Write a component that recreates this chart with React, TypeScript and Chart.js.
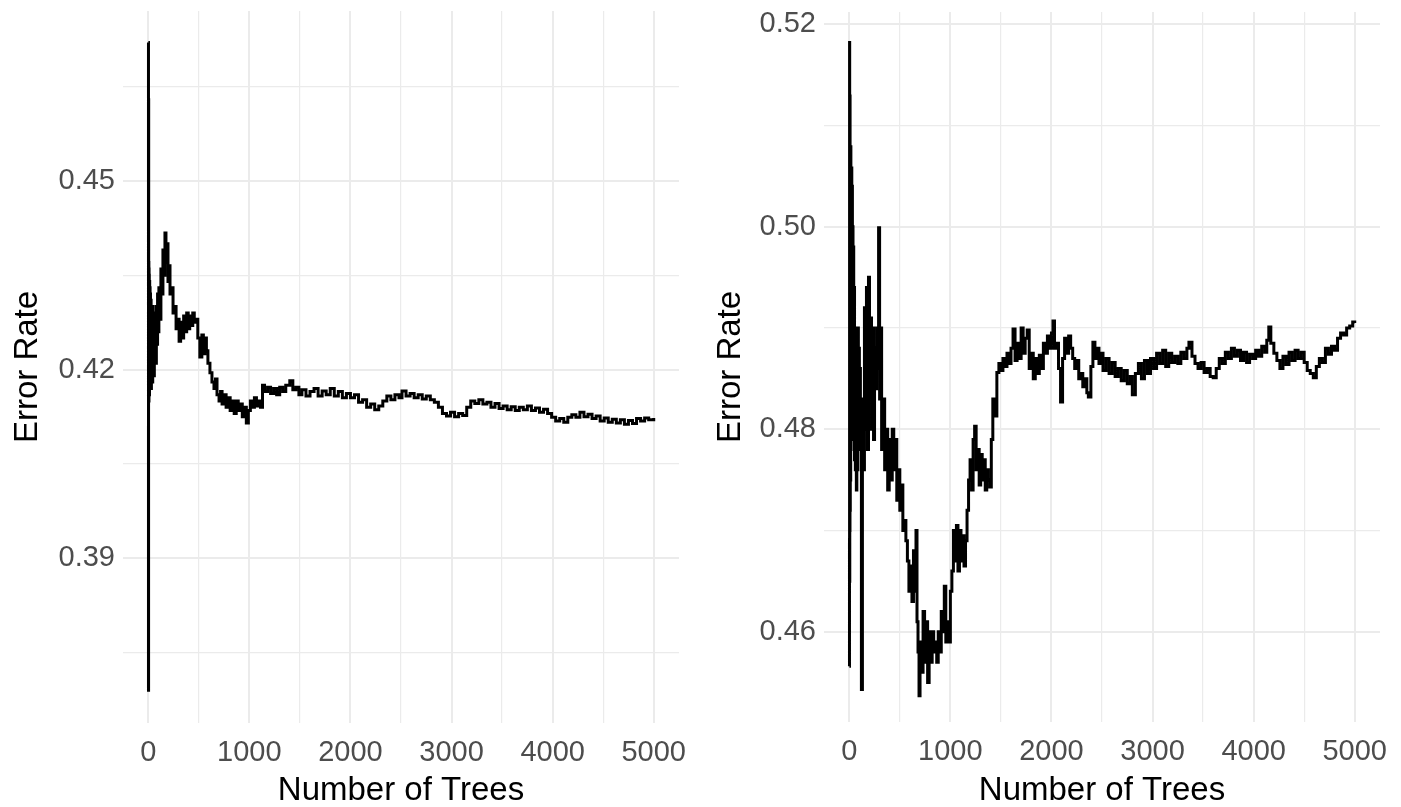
import React, { useEffect, useRef } from "react";
import { Chart, registerables } from "chart.js";

Chart.register(...registerables);

// ---------- DATA ----------
const TREES_LEFT = [
  1, 2, 3, 4, 5, 6, 7, 8, 9, 10,
  12, 14, 16, 18, 20, 22, 25, 28, 31, 34,
  37, 40, 44, 48, 52, 56, 60, 65, 70, 75,
  80, 86, 92, 98,
  105, 115, 125, 135, 145, 155, 165, 175,
  185, 195, 205, 215, 230, 245, 260, 275, 290, 305,
  320, 335, 350, 365, 380, 395, 410, 425, 440, 455,
  470, 490, 510, 530, 545, 560, 575, 590, 610, 630,
  650, 665, 680, 700, 715, 730, 750, 770, 790, 810,
  830, 850, 870, 890, 910, 930, 950, 970, 990, 1010,
  1030, 1050, 1070, 1090, 1110, 1130, 1150, 1180, 1210, 1240,
  1270, 1300, 1330, 1360, 1400, 1430, 1460, 1490, 1520, 1560,
  1600, 1640, 1680, 1720, 1760, 1800, 1840, 1880, 1920, 1960,
  2000, 2040, 2080, 2120, 2160, 2200, 2240, 2280, 2320, 2360,
  2400, 2440, 2480, 2510, 2550, 2590, 2630, 2670, 2710, 2750,
  2790, 2830, 2870, 2910, 2950, 2990, 3030, 3070, 3110, 3150,
  3190, 3230, 3270, 3310, 3350, 3390, 3430, 3470, 3510, 3550,
  3590, 3630, 3670, 3710, 3750, 3790, 3830, 3870, 3910, 3950,
  3990, 4030, 4070, 4110, 4150, 4190, 4230, 4270, 4310, 4350,
  4390, 4430, 4470, 4510, 4550, 4590, 4630, 4670, 4710, 4750,
  4790, 4830, 4870, 4910, 4950, 5000,
];

const ERROR_LEFT = [
  0.4720, 0.3690, 0.4629, 0.4180, 0.4370, 0.4150, 0.4360, 0.4170, 0.4350, 0.4160,
  0.4340, 0.4180, 0.4330, 0.4170, 0.4320, 0.4190, 0.4310, 0.4170, 0.4300, 0.4200,
  0.4290, 0.4180, 0.4300, 0.4210, 0.4290, 0.4190, 0.4280, 0.4220, 0.4290, 0.4210,
  0.4300, 0.4240, 0.4320, 0.4260,
  0.4330, 0.4280, 0.4360, 0.4320, 0.4390, 0.4350, 0.4417, 0.4370,
  0.4400, 0.4340, 0.4365, 0.4320, 0.4330, 0.4290, 0.4300, 0.4265, 0.4280, 0.4245,
  0.4275, 0.4250, 0.4285, 0.4260, 0.4290, 0.4265, 0.4285, 0.4270, 0.4290, 0.4275,
  0.4280, 0.4250, 0.4220, 0.4255, 0.4225, 0.4250, 0.4230, 0.4210, 0.4195, 0.4180,
  0.4170, 0.4185, 0.4160, 0.4150, 0.4165, 0.4145, 0.4160, 0.4140, 0.4155, 0.4135,
  0.4150, 0.4130, 0.4150, 0.4135, 0.4145, 0.4125, 0.4140, 0.4115, 0.4135, 0.4150,
  0.4140, 0.4155, 0.4142, 0.4150, 0.4140, 0.4175, 0.4165, 0.4172, 0.4162, 0.4170,
  0.4160, 0.4172, 0.4165, 0.4175, 0.4182, 0.4168, 0.4172, 0.4160, 0.4168, 0.4158,
  0.4165, 0.4170, 0.4158, 0.4166, 0.4160, 0.4170, 0.4158, 0.4165, 0.4155, 0.4162,
  0.4155, 0.4160, 0.4148, 0.4152, 0.4140, 0.4145, 0.4136, 0.4142, 0.4150, 0.4158,
  0.4152, 0.4160, 0.4155, 0.4166, 0.4158, 0.4162, 0.4155, 0.4160, 0.4153, 0.4158,
  0.4152, 0.4148, 0.4140, 0.4130, 0.4126, 0.4132, 0.4125, 0.4130, 0.4127, 0.4140,
  0.4150, 0.4146, 0.4152, 0.4145, 0.4148, 0.4140, 0.4146, 0.4138, 0.4142, 0.4136,
  0.4141, 0.4135, 0.4140, 0.4136, 0.4142, 0.4135, 0.4139, 0.4132, 0.4137, 0.4130,
  0.4124, 0.4118, 0.4122, 0.4116, 0.4124, 0.4128, 0.4124, 0.4132, 0.4125, 0.4129,
  0.4122, 0.4126, 0.4118, 0.4123, 0.4116, 0.4121, 0.4115, 0.4120, 0.4113, 0.4119,
  0.4114, 0.4122, 0.4118, 0.4123, 0.4120, 0.4123,
];

const TREES_RIGHT = [
  1, 2, 3, 4, 5, 6, 7, 8, 10, 12,
  14, 16, 18, 20, 22, 25, 28, 31, 34, 37,
  40, 44, 48, 52, 56, 60, 65, 70, 75, 80,
  85, 90, 95, 100, 105, 110, 115, 120,
  130, 140, 150, 160, 170, 180,
  190, 200, 210, 220, 230, 240, 250, 260, 270, 280,
  290, 300, 310, 320, 335, 350, 365, 380, 395, 410,
  425, 440, 455, 470, 485, 500, 515, 530, 545, 560,
  575, 590, 605, 620, 635, 650, 660, 670, 680, 690,
  700, 715, 730, 745, 760, 775, 790, 805, 820, 835,
  850, 865, 880, 895, 910, 925, 940, 955, 970, 985,
  1000, 1015, 1030, 1045, 1060, 1075, 1090, 1105, 1120, 1135,
  1150, 1165, 1180, 1195, 1210, 1225, 1240, 1255, 1270, 1285,
  1300, 1315, 1330, 1345, 1360, 1375, 1390, 1405, 1420, 1440,
  1460, 1480, 1500, 1520, 1540, 1560, 1580, 1600, 1620, 1640,
  1660, 1680, 1700, 1720, 1740, 1760, 1780, 1800, 1820, 1840,
  1860, 1880, 1900, 1920, 1940, 1960, 1980, 2000, 2015, 2030,
  2050, 2070, 2090, 2110, 2130, 2150, 2170, 2190, 2210, 2230,
  2250, 2270, 2290, 2310, 2330, 2350, 2365, 2390, 2410, 2430,
  2450, 2470, 2490, 2510, 2540, 2570, 2600, 2630, 2660, 2690,
  2720, 2750, 2780, 2800, 2830, 2860, 2890, 2920, 2950, 2980,
  3010, 3040, 3070, 3100, 3130, 3160, 3190, 3220, 3250, 3280,
  3310, 3340, 3360, 3390, 3420, 3450, 3480, 3510, 3540, 3570,
  3600, 3630, 3660, 3690, 3720, 3750, 3780, 3810, 3840, 3870,
  3900, 3930, 3960, 3990, 4020, 4050, 4080, 4110, 4130, 4150,
  4170, 4200, 4230, 4260, 4290, 4320, 4350, 4380, 4410, 4440,
  4470, 4500, 4530, 4560, 4590, 4620, 4650, 4680, 4710, 4740,
  4770, 4800, 4830, 4860, 4890, 4920, 4950, 4980, 5000,
];

const ERROR_RIGHT = [
  0.4566, 0.4691, 0.5182, 0.4650, 0.5129, 0.4700, 0.5129, 0.4720, 0.5079, 0.4750,
  0.5079, 0.4780, 0.5058, 0.4800, 0.5058, 0.4790, 0.5040, 0.4830, 0.5000, 0.4860,
  0.4980, 0.4800, 0.4940, 0.4770, 0.4900, 0.4760, 0.4880, 0.4740, 0.4870, 0.4760,
  0.4900, 0.4780, 0.4880, 0.4790, 0.4860, 0.4800, 0.4830, 0.4543,
  0.4830, 0.4760, 0.4920, 0.4800, 0.4940, 0.4780,
  0.4950, 0.4850, 0.4910, 0.4800, 0.4900, 0.4790, 0.4880, 0.4840, 0.4900, 0.4860,
  0.4999, 0.4830, 0.4900, 0.4780, 0.4830, 0.4760, 0.4800, 0.4740, 0.4790, 0.4750,
  0.4800, 0.4760, 0.4790, 0.4730, 0.4760, 0.4720, 0.4745, 0.4700, 0.4710, 0.4690,
  0.4670, 0.4640, 0.4665, 0.4630, 0.4680, 0.4640, 0.4700, 0.4610, 0.4580, 0.4537,
  0.4590, 0.4560, 0.4620, 0.4570, 0.4610, 0.4550, 0.4600, 0.4570, 0.4600, 0.4580,
  0.4590, 0.4570, 0.4600, 0.4580, 0.4620, 0.4600, 0.4645, 0.4590, 0.4610, 0.4590,
  0.4640, 0.4660, 0.4700, 0.4670, 0.4705, 0.4660, 0.4700, 0.4670, 0.4695, 0.4665,
  0.4690, 0.4720, 0.4750, 0.4770, 0.4740, 0.4790, 0.4803, 0.4760, 0.4780, 0.4745,
  0.4775, 0.4750, 0.4770, 0.4740, 0.4760, 0.4750, 0.4743, 0.4790, 0.4830, 0.4813,
  0.4856, 0.4865, 0.4858, 0.4870, 0.4862, 0.4875, 0.4865, 0.4880, 0.4899, 0.4868,
  0.4885, 0.4870, 0.4900, 0.4875, 0.4890, 0.4898, 0.4860, 0.4875, 0.4850, 0.4870,
  0.4855, 0.4873, 0.4860, 0.4885, 0.4875, 0.4892, 0.4880, 0.4895, 0.4907, 0.4880,
  0.4885, 0.4860, 0.4827, 0.4870, 0.4890, 0.4875, 0.4892, 0.4880, 0.4870, 0.4860,
  0.4868, 0.4850, 0.4855, 0.4842, 0.4850, 0.4836, 0.4832, 0.4862, 0.4886, 0.4870,
  0.4880, 0.4865, 0.4875, 0.4858, 0.4870, 0.4855, 0.4866, 0.4852, 0.4860, 0.4848,
  0.4858, 0.4845, 0.4852, 0.4834, 0.4855, 0.4865, 0.4850, 0.4868, 0.4855, 0.4870,
  0.4860, 0.4875, 0.4865, 0.4878, 0.4862, 0.4875, 0.4866, 0.4872, 0.4865, 0.4876,
  0.4870, 0.4880, 0.4886, 0.4872, 0.4865, 0.4860, 0.4866, 0.4856, 0.4860, 0.4852,
  0.4851, 0.4860, 0.4870, 0.4865, 0.4876, 0.4870, 0.4880, 0.4872, 0.4878, 0.4868,
  0.4876, 0.4866, 0.4874, 0.4870, 0.4878, 0.4872, 0.4882, 0.4876, 0.4888, 0.4901,
  0.4885, 0.4875, 0.4868, 0.4860, 0.4872, 0.4864, 0.4876, 0.4868, 0.4878, 0.4870,
  0.4876, 0.4866, 0.4858, 0.4855, 0.4851, 0.4862, 0.4870, 0.4866, 0.4880, 0.4874,
  0.4882, 0.4878, 0.4890, 0.4895, 0.4893, 0.4900, 0.4902, 0.4906, 0.4905,
];

const X_GRID = [0, 500, 1000, 1500, 2000, 2500, 3000, 3500, 4000, 4500, 5000];
const X_LABELS = [0, 1000, 2000, 3000, 4000, 5000];

const Y_GRID_LEFT = [0.375, 0.39, 0.405, 0.42, 0.435, 0.45, 0.465];
const Y_LABELS_LEFT = [0.39, 0.42, 0.45];

const Y_GRID_RIGHT = [0.46, 0.47, 0.48, 0.49, 0.5, 0.51, 0.52];
const Y_LABELS_RIGHT = [0.46, 0.48, 0.5, 0.52];

const X_TITLE = "Number of Trees";
const Y_TITLE = "Error Rate";

// ---------- STYLE ----------
const FONT = "'Liberation Sans', Arial, Helvetica, sans-serif";
const GRID_COLOR = "#ebebeb";

const has = (arr: number[], v: number) => arr.some((a) => Math.abs(a - v) < 1e-9);

type PanelProps = {
  trees: number[];
  errors: number[];
  yMin: number;
  yMax: number;
  yGrid: number[];
  yLabels: number[];
  left: number;
  width: number;
  yAxisWidth: number;
  padTop: number;
  padRight: number;
  xAxisHeight: number;
  yTitlePad: number;
};

function Panel(p: PanelProps) {
  const ref = useRef<HTMLCanvasElement | null>(null);
  useEffect(() => {
    if (!ref.current) return;
    const data = p.trees.map((t, i) => ({ x: t, y: p.errors[i] }));
    const chart = new Chart(ref.current, {
      type: "line",
      data: {
        datasets: [
          {
            data,
            borderColor: "#000000",
            borderWidth: 3,
            pointRadius: 0,
            fill: false,
            stepped: true,
            tension: 0,
          },
        ],
      },
      options: {
        animation: false,
        responsive: false,
        maintainAspectRatio: false,
        events: [],
        layout: { padding: { top: p.padTop, right: p.padRight, bottom: 0, left: 0 } },
        plugins: { legend: { display: false }, tooltip: { enabled: false }, title: { display: false } },
        scales: {
          x: {
            type: "linear",
            min: -250,
            max: 5250,
            border: { display: false },
            grid: {
              color: GRID_COLOR,
              drawTicks: false,
              lineWidth: (ctx: any) => (ctx.tick && has(X_LABELS, ctx.tick.value) ? 2 : 1.2),
            },
            afterBuildTicks: (axis: any) => {
              axis.ticks = X_GRID.map((v) => ({ value: v }));
            },
            afterFit: (axis: any) => {
              axis.height = p.xAxisHeight;
              axis.paddingLeft = 0;
              axis.paddingRight = 0;
              axis.paddingTop = 0;
              axis.paddingBottom = 0;
            },
            ticks: {
              autoSkip: false,
              maxRotation: 0,
              minRotation: 0,
              padding: 13,
              color: "#4d4d4d",
              font: { family: FONT, size: 29 },
              callback: (v: any) => (has(X_LABELS, Number(v)) ? String(v) : ""),
            },
            title: {
              display: true,
              text: X_TITLE,
              color: "#000000",
              font: { family: FONT, size: 33, lineHeight: 1 },
              padding: { top: 0, bottom: 0 },
            },
          },
          y: {
            type: "linear",
            min: p.yMin,
            max: p.yMax,
            border: { display: false },
            grid: {
              color: GRID_COLOR,
              drawTicks: false,
              lineWidth: (ctx: any) => (ctx.tick && has(p.yLabels, ctx.tick.value) ? 2 : 1.2),
            },
            afterBuildTicks: (axis: any) => {
              axis.ticks = p.yGrid.map((v) => ({ value: v }));
            },
            afterFit: (axis: any) => {
              axis.width = p.yAxisWidth;
              axis.paddingLeft = 0;
              axis.paddingRight = 0;
              axis.paddingTop = 0;
              axis.paddingBottom = 0;
            },
            ticks: {
              autoSkip: false,
              padding: 8,
              color: "#4d4d4d",
              font: { family: FONT, size: 29 },
              callback: (v: any) => (has(p.yLabels, Number(v)) ? Number(v).toFixed(2) : ""),
            },
            title: {
              display: true,
              text: Y_TITLE,
              color: "#000000",
              font: { family: FONT, size: 33, lineHeight: 1 },
              padding: { top: p.yTitlePad, bottom: 0 },
            },
          },
        },
      } as any,
    });
    return () => chart.destroy();
  }, []);
  return (
    <div style={{ position: "absolute", left: p.left, top: 0, width: p.width, height: 807 }}>
      <canvas ref={ref} width={p.width} height={807} style={{ display: "block" }} />
    </div>
  );
}

export default function App() {
  return (
    <div
      style={{
        position: "absolute",
        left: 0,
        top: 0,
        width: 1401,
        height: 807,
        background: "#ffffff",
        overflow: "hidden",
      }}
    >
      <Panel
        trees={TREES_LEFT}
        errors={ERROR_LEFT}
        yMin={0.3638}
        yMax={0.477}
        yGrid={Y_GRID_LEFT}
        yLabels={Y_LABELS_LEFT}
        left={0}
        width={700}
        yAxisWidth={123}
        padTop={11}
        padRight={21}
        xAxisHeight={84}
        yTitlePad={11}
      />
      <Panel
        trees={TREES_RIGHT}
        errors={ERROR_RIGHT}
        yMin={0.4511}
        yMax={0.5212}
        yGrid={Y_GRID_RIGHT}
        yLabels={Y_LABELS_RIGHT}
        left={700}
        width={701}
        yAxisWidth={124}
        padTop={12}
        padRight={21}
        xAxisHeight={85}
        yTitlePad={14}
      />
    </div>
  );
}
